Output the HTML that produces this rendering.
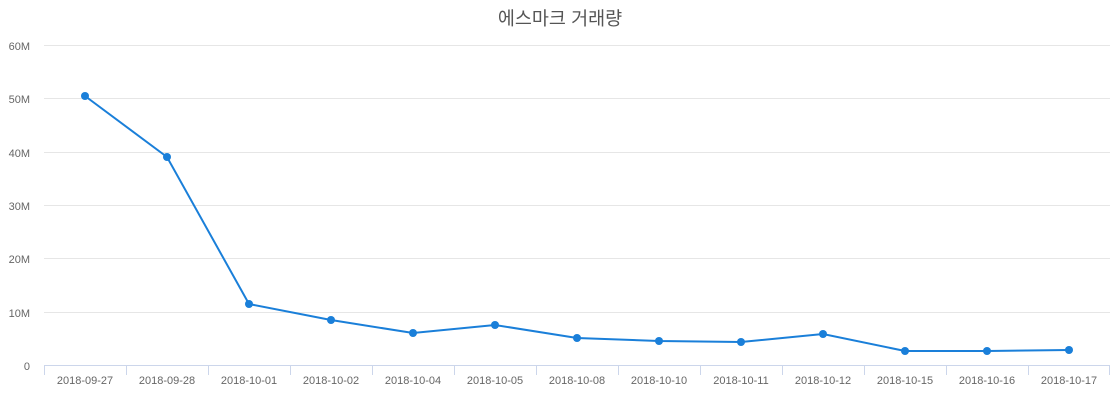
<!DOCTYPE html>
<html><head><meta charset="utf-8"><style>body{margin:0;background:#fff}svg{display:block}</style></head><body>
<svg width="1120" height="400" xmlns="http://www.w3.org/2000/svg" font-family="'Liberation Sans','Noto Sans CJK KR',sans-serif">
<text x="560" y="25" text-anchor="middle" font-size="18.5" fill="#555">에스마크 거래량</text>
<g stroke="#e6e6e6" stroke-width="1">
<line x1="44" x2="1110" y1="45.5" y2="45.5"/><line x1="44" x2="1110" y1="98.5" y2="98.5"/><line x1="44" x2="1110" y1="152.5" y2="152.5"/><line x1="44" x2="1110" y1="205.5" y2="205.5"/><line x1="44" x2="1110" y1="258.5" y2="258.5"/><line x1="44" x2="1110" y1="312.5" y2="312.5"/>
</g>
<line x1="44" x2="1110" y1="365.5" y2="365.5" stroke="#ccd6eb"/>
<g stroke="#ccd6eb">
<line x1="44.5" x2="44.5" y1="365" y2="375"/><line x1="126.5" x2="126.5" y1="365" y2="375"/><line x1="208.5" x2="208.5" y1="365" y2="375"/><line x1="290.5" x2="290.5" y1="365" y2="375"/><line x1="372.5" x2="372.5" y1="365" y2="375"/><line x1="454.5" x2="454.5" y1="365" y2="375"/><line x1="536.5" x2="536.5" y1="365" y2="375"/><line x1="618.5" x2="618.5" y1="365" y2="375"/><line x1="700.5" x2="700.5" y1="365" y2="375"/><line x1="782.5" x2="782.5" y1="365" y2="375"/><line x1="864.5" x2="864.5" y1="365" y2="375"/><line x1="946.5" x2="946.5" y1="365" y2="375"/><line x1="1028.5" x2="1028.5" y1="365" y2="375"/><line x1="1109.5" x2="1109.5" y1="365" y2="375"/>
</g>
<g font-size="11" fill="#666" text-anchor="end">
<text x="30" y="50">60M</text><text x="30" y="103">50M</text><text x="30" y="157">40M</text><text x="30" y="210">30M</text><text x="30" y="263">20M</text><text x="30" y="317">10M</text><text x="30" y="370">0</text>
</g>
<g font-size="11" fill="#666" text-anchor="middle">
<text x="85" y="384">2018-09-27</text><text x="167" y="384">2018-09-28</text><text x="249" y="384">2018-10-01</text><text x="331" y="384">2018-10-02</text><text x="413" y="384">2018-10-04</text><text x="495" y="384">2018-10-05</text><text x="577" y="384">2018-10-08</text><text x="659" y="384">2018-10-10</text><text x="741" y="384">2018-10-11</text><text x="823" y="384">2018-10-12</text><text x="905" y="384">2018-10-15</text><text x="987" y="384">2018-10-16</text><text x="1069" y="384">2018-10-17</text>
</g>
<polyline fill="none" stroke="#1a7fd9" stroke-width="2" points="85,96 167,157 249,304 331,320 413,333 495,325 577,338 659,341 741,342 823,334 905,351 987,351 1069,350"/>
<g fill="#1a7fd9">
<circle cx="85" cy="96" r="4"/><circle cx="167" cy="157" r="4"/><circle cx="249" cy="304" r="4"/><circle cx="331" cy="320" r="4"/><circle cx="413" cy="333" r="4"/><circle cx="495" cy="325" r="4"/><circle cx="577" cy="338" r="4"/><circle cx="659" cy="341" r="4"/><circle cx="741" cy="342" r="4"/><circle cx="823" cy="334" r="4"/><circle cx="905" cy="351" r="4"/><circle cx="987" cy="351" r="4"/><circle cx="1069" cy="350" r="4"/>
</g>
</svg>
</body></html>
